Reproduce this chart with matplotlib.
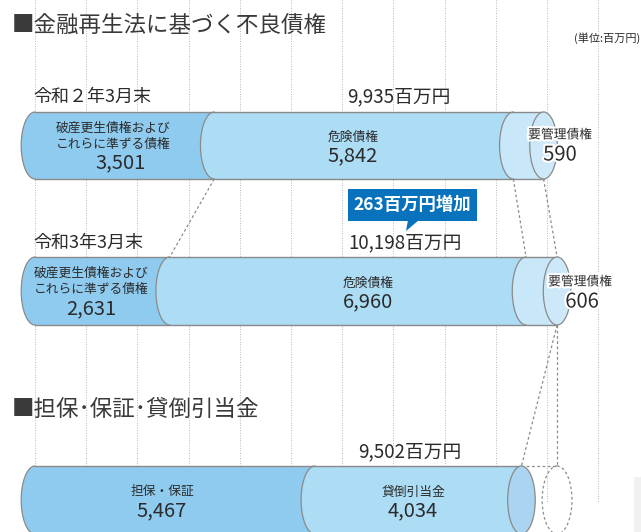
import numpy as np
import matplotlib.pyplot as plt
from matplotlib.patches import Polygon, Ellipse, Rectangle
import matplotlib.patheffects as pe

plt.rcParams['font.family'] = ['Noto Sans CJK JP', 'DejaVu Sans']

# data (単位: 百万円)
title1 = '■金融再生法に基づく不良債権'
title2 = '■担保･保証･貸倒引当金'
unit_label = '(単位:百万円)'

periods = ['令和２年3月末', '令和3年3月末']
npl_labels = ['破産更生債権および\nこれらに準ずる債権', '危険債権', '要管理債権']
npl_r2 = [3501, 5842, 590]
npl_r3 = [2631, 6960, 606]
npl_totals = [9935, 10198]

cover_labels = ['担保・保証', '貸倒引当金']
cover_values = [5467, 4034]
cover_total = 9502

# layout: x axis in 百万円, y axis in pixels from the top
PX = 0.0512          # pixels per 百万円
X0 = 35              # pixel position of zero
A = 13.8 / PX        # half width of the end ellipses
EDGE = '#8a8a8a'
TXT = '#2b2b2b'


def X(p):
    return (p - X0) / PX


fig = plt.figure(figsize=(6.41, 5.32), dpi=100)
ax = fig.add_axes([0, 0, 1, 1])
ax.set_xlim(X(0), X(641))
ax.set_ylim(532, 0)
ax.axis('off')

# dotted grid every 1000
ax.vlines(np.arange(0, 12000, 1000), 0, 503, colors='#b8b8b8', lw=0.7,
          linestyles=(0, (1, 1.6)), zorder=0)


def left_arc(xc, yc, h, reverse=False):
    t = np.linspace(0, np.pi, 40)
    pts = np.column_stack([xc - A * np.sin(t), yc - h * np.cos(t)])
    return pts[::-1] if reverse else pts


def cylinder(values, yc, h, colors, face):
    edges = np.concatenate([[0], np.cumsum(values)])
    for i in range(len(values)):
        poly = np.vstack([left_arc(edges[i], yc, h), left_arc(edges[i + 1], yc, h, True)])
        ax.add_patch(Polygon(poly, closed=True, fc=colors[i], ec='none', zorder=2))
    ax.plot([edges[0], edges[-1]], [yc - h, yc - h], color=EDGE, lw=1.0, zorder=3)
    ax.plot([edges[0], edges[-1]], [yc + h, yc + h], color=EDGE, lw=1.0, zorder=3)
    for e in edges[:-1]:
        arc = left_arc(e, yc, h)
        ax.plot(arc[:, 0], arc[:, 1], color=EDGE, lw=0.9, zorder=3)
    ax.add_patch(Ellipse((edges[-1], yc), 2 * A, 2 * h, fc=face, ec=EDGE, lw=0.9, zorder=3))
    return edges


npl_colors = ['#8fcbef', '#addcf5', '#c8e7f9']
rows = [(145.5, 33.5), (291.0, 34.0)]
e1 = cylinder(npl_r2, *rows[0], npl_colors, '#cde9f9')
e2 = cylinder(npl_r3, *rows[1], npl_colors, '#cde9f9')
e3 = cylinder(cover_values, 500.0, 34.0, npl_colors[:2], '#aad4f2')

# dashed guides between the cylinders
dash = dict(color='#8c8c8c', lw=0.9, ls=(0, (2.2, 2)), zorder=1.5)
for a, b in zip(e1[1:], e2[1:]):
    ax.plot([a, b], [rows[0][0] + rows[0][1], rows[1][0] - rows[1][1]], **dash)
bot2 = rows[1][0] + rows[1][1]
ax.plot([e2[-1], e3[-1]], [bot2, 466], **dash)
ax.plot([e2[-1], e2[-1]], [bot2, 466], **dash)
ax.plot([e3[-1], e2[-1]], [466, 466], **dash)
ax.add_patch(Ellipse((e2[-1], 500), 2 * A * 1.08, 68, fc='none', ec='#8c8c8c',
                     lw=0.9, ls=(0, (2.2, 2)), zorder=1.5))

# titles and headings
ax.text(X(12), 25, title1, fontsize=16.2, color='#3a3a3a', va='center', ha='left')
ax.text(X(12), 409, title2, fontsize=16.2, color='#3a3a3a', va='center', ha='left')
ax.text(X(640), 38, unit_label, fontsize=8, color=TXT, va='center', ha='right')

for name, y in zip(periods, [97, 243]):
    ax.text(X(33), y, name, fontsize=13, color=TXT, va='center', ha='left')
for tot, (xp, y) in zip(npl_totals + [cover_total], [(399, 97), (405, 243), (410, 452)]):
    ax.text(X(xp), y, f'{tot:,}百万円', fontsize=13.5, color=TXT, va='center', ha='center')

# segment labels (pixel positions)
halo = [pe.withStroke(linewidth=3, foreground='white')]
seg_pos = [
    [(113, 121, 128, 163), (353, 353, 137, 156), (560, 560, 135, 155)],
    [(91, 91, 273, 309), (368, 368, 283, 302), (580, 582, 282, 302)],
]
for vals, pos in zip([npl_r2, npl_r3], seg_pos):
    for i, (lab, v, (lx, vx, ly, vy)) in enumerate(zip(npl_labels, vals, pos)):
        fx = halo if i == 2 else None
        for k, line in enumerate(lab.split('\n')):
            ax.text(X(lx), ly + 16.5 * k, line, fontsize=9.2, color=TXT, va='center',
                    ha='center', zorder=5, path_effects=fx)
        ax.text(X(vx), vy, f'{v:,}', fontsize=14.5, color=TXT, va='center', ha='center',
                zorder=5, path_effects=fx)

for lab, v, xp in zip(cover_labels, cover_values, [162, 413]):
    ax.text(X(xp), 492, lab, fontsize=9.2, color=TXT, va='center', ha='center', zorder=5)
    ax.text(X(xp), 511, f'{v:,}', fontsize=14.5, color=TXT, va='center', ha='center', zorder=5)

# increase callout
blue = '#0872bc'
ax.add_patch(Rectangle((X(348), 189), X(477) - X(348), 32, fc=blue, ec='none', zorder=4))
ax.add_patch(Polygon([(X(408), 220), (X(419), 220), (X(406), 231)], fc=blue, ec='none', zorder=4))
ax.text(X(412.5), 205, f'{npl_totals[1] - npl_totals[0]}百万円増加', fontsize=12.5,
        fontweight='bold', color='white', va='center', ha='center', zorder=5)

# light grey edge at the bottom right
ax.add_patch(Rectangle((X(634), 477), X(641) - X(634), 55, fc='#f1f1f1', ec='none', zorder=0))

fig.savefig('out.png', dpi=100)
